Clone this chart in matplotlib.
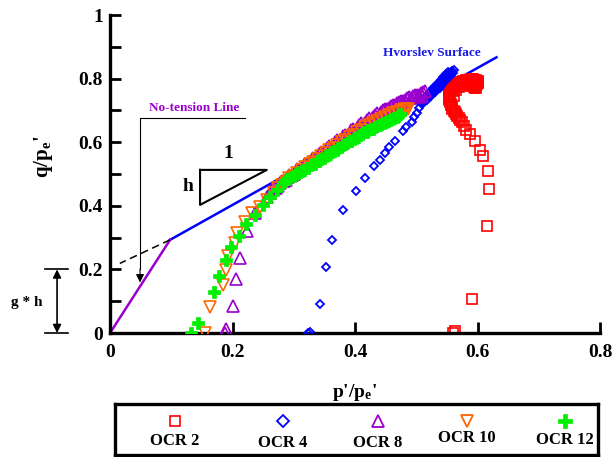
import numpy as np
import matplotlib.pyplot as plt
from matplotlib.ticker import MultipleLocator

plt.rcParams['font.family'] = 'Liberation Serif'
plt.rcParams['font.weight'] = 'bold'
plt.rcParams['axes.labelweight'] = 'bold'
plt.rcParams['mathtext.fontset'] = 'custom'
plt.rcParams['mathtext.rm'] = 'Liberation Serif:bold'
plt.rcParams['mathtext.it'] = 'Liberation Serif:bold'
plt.rcParams['mathtext.bf'] = 'Liberation Serif:bold'

# OCR 2
p2 = [0.560, 0.563, 0.591, 0.615, 0.618, 0.617, 0.609, 0.604, 0.596, 0.588, 0.582, 0.578,
      0.574, 0.571, 0.569, 0.567, 0.565, 0.563, 0.561, 0.559, 0.558, 0.557, 0.556, 0.555,
      0.554, 0.553, 0.553, 0.553, 0.553, 0.554, 0.555, 0.556, 0.558, 0.560, 0.562, 0.564,
      0.566, 0.569, 0.571, 0.574, 0.576, 0.579, 0.581, 0.584, 0.586, 0.589, 0.591, 0.593,
      0.595, 0.597, 0.599, 0.600, 0.600, 0.600, 0.599, 0.598, 0.597, 0.595, 0.594, 0.596,
      0.598, 0.591, 0.587, 0.593, 0.570, 0.580, 0.590, 0.575, 0.585, 0.595, 0.560, 0.562,
      0.565]
q2 = [0.000, 0.006, 0.107, 0.337, 0.453, 0.510, 0.557, 0.576, 0.603, 0.626, 0.638, 0.650,
      0.665, 0.671, 0.676, 0.682, 0.688, 0.694, 0.699, 0.705, 0.710, 0.716, 0.721, 0.727,
      0.732, 0.738, 0.743, 0.748, 0.753, 0.758, 0.762, 0.766, 0.770, 0.774, 0.777, 0.780,
      0.783, 0.786, 0.788, 0.790, 0.792, 0.794, 0.795, 0.796, 0.797, 0.798, 0.798, 0.798,
      0.797, 0.796, 0.794, 0.791, 0.789, 0.786, 0.783, 0.780, 0.778, 0.776, 0.774, 0.772,
      0.772, 0.781, 0.786, 0.790, 0.775, 0.778, 0.780, 0.783, 0.785, 0.788, 0.760, 0.745,
      0.765]

# OCR 4
p4 = [0.324, 0.327, 0.343, 0.352, 0.362, 0.381, 0.401, 0.417, 0.431, 0.441, 0.449, 0.456,
      0.465, 0.479, 0.483, 0.493, 0.496, 0.501, 0.505, 0.510, 0.512, 0.514, 0.517, 0.519,
      0.521, 0.523, 0.525, 0.527, 0.529, 0.531, 0.533, 0.535, 0.537, 0.539, 0.541, 0.543,
      0.545, 0.547, 0.549, 0.551, 0.552, 0.554, 0.555, 0.556, 0.558, 0.557, 0.555, 0.553,
      0.550, 0.547, 0.545, 0.540, 0.538, 0.532, 0.530, 0.524, 0.518,
      0.516, 0.520, 0.524, 0.528, 0.532, 0.536, 0.540, 0.544, 0.548, 0.552, 0.560, 0.561,
      0.508, 0.513, 0.518, 0.523, 0.528, 0.533, 0.538, 0.543, 0.549]
q4 = [0.000, 0.004, 0.091, 0.209, 0.294, 0.388, 0.448, 0.486, 0.526, 0.544, 0.565, 0.584,
      0.605, 0.636, 0.647, 0.664, 0.678, 0.693, 0.707, 0.720, 0.725, 0.729, 0.738, 0.742,
      0.746, 0.750, 0.754, 0.758, 0.762, 0.766, 0.770, 0.775, 0.779, 0.783, 0.788, 0.792,
      0.797, 0.801, 0.805, 0.808, 0.812, 0.815, 0.818, 0.820, 0.823, 0.812, 0.810, 0.806,
      0.798, 0.792, 0.790, 0.778, 0.772, 0.762, 0.758, 0.745, 0.733,
      0.744, 0.752, 0.760, 0.769, 0.778, 0.787, 0.796, 0.805, 0.813, 0.821, 0.818, 0.826,
      0.726, 0.736, 0.745, 0.754, 0.763, 0.772, 0.781, 0.790, 0.800]

# OCR 8
p8 = [0.188, 0.189, 0.200, 0.206, 0.212, 0.223, 0.237, 0.256,
      0.262, 0.265, 0.268, 0.271, 0.274, 0.277, 0.280, 0.284, 0.287, 0.290, 0.293, 0.297,
      0.300, 0.303, 0.306, 0.310, 0.313, 0.316, 0.319, 0.323, 0.326, 0.329, 0.332, 0.336,
      0.339, 0.342, 0.345, 0.349, 0.352, 0.355, 0.358, 0.362, 0.365, 0.368, 0.371, 0.375,
      0.378, 0.381, 0.384, 0.388, 0.391, 0.394, 0.397, 0.401, 0.404, 0.407, 0.410, 0.414,
      0.417, 0.420, 0.423, 0.427, 0.430, 0.433, 0.436, 0.440, 0.443, 0.446, 0.449, 0.453,
      0.456, 0.459, 0.462, 0.466, 0.469, 0.472, 0.475, 0.479, 0.482, 0.485, 0.488, 0.492,
      0.495, 0.498, 0.501, 0.505, 0.508, 0.511, 0.514, 0.510, 0.504]
q8 = [0.000, 0.012, 0.086, 0.169, 0.236, 0.322, 0.376, 0.429,
      0.440, 0.452, 0.458, 0.457, 0.462, 0.473, 0.478, 0.477, 0.482, 0.492, 0.497, 0.496,
      0.500, 0.510, 0.515, 0.514, 0.518, 0.528, 0.533, 0.532, 0.537, 0.546, 0.551, 0.550,
      0.554, 0.564, 0.569, 0.568, 0.572, 0.582, 0.587, 0.586, 0.590, 0.601, 0.606, 0.604,
      0.609, 0.619, 0.624, 0.622, 0.627, 0.637, 0.642, 0.640, 0.645, 0.654, 0.659, 0.657,
      0.662, 0.670, 0.675, 0.673, 0.678, 0.686, 0.691, 0.689, 0.694, 0.701, 0.705, 0.703,
      0.708, 0.714, 0.718, 0.717, 0.722, 0.727, 0.730, 0.729, 0.734, 0.738, 0.741, 0.740,
      0.745, 0.748, 0.750, 0.749, 0.756, 0.757, 0.760, 0.745, 0.742]

# OCR 10
p10 = [0.155, 0.163, 0.185, 0.189, 0.193, 0.204, 0.208, 0.221, 0.231, 0.245, 0.256, 0.267,
       0.274, 0.280, 0.287, 0.293, 0.300, 0.306, 0.313, 0.319, 0.326, 0.332, 0.339, 0.345,
       0.352, 0.358, 0.365, 0.371, 0.378, 0.384, 0.391, 0.397, 0.404, 0.410, 0.417, 0.423,
       0.430, 0.436, 0.443, 0.449, 0.456, 0.462, 0.469, 0.475, 0.481, 0.487, 0.484, 0.478]
q10 = [0.000, 0.083, 0.151, 0.198, 0.242, 0.283, 0.316, 0.350, 0.376, 0.397, 0.418, 0.439,
       0.455, 0.465, 0.475, 0.486, 0.495, 0.503, 0.512, 0.521, 0.530, 0.538, 0.547, 0.556,
       0.565, 0.574, 0.583, 0.591, 0.600, 0.608, 0.616, 0.624, 0.632, 0.640, 0.647, 0.654,
       0.661, 0.667, 0.674, 0.680, 0.686, 0.691, 0.696, 0.700, 0.703, 0.706, 0.700, 0.697]

# OCR 12
p12 = [0.133, 0.143, 0.169, 0.178, 0.189, 0.197, 0.210, 0.222, 0.236, 0.250, 0.261, 0.272,
       0.283, 0.286, 0.289, 0.293, 0.296, 0.300, 0.303, 0.307, 0.310, 0.314, 0.317, 0.321,
       0.324, 0.328, 0.331, 0.335, 0.338, 0.342, 0.345, 0.349, 0.352, 0.356, 0.359, 0.363,
       0.366, 0.370, 0.373, 0.377, 0.380, 0.384, 0.387, 0.391, 0.394, 0.398, 0.401, 0.405,
       0.408, 0.412, 0.415, 0.419, 0.422, 0.426, 0.429, 0.433, 0.436, 0.440, 0.443, 0.447,
       0.450, 0.454, 0.457, 0.461, 0.464, 0.468, 0.471, 0.473]
q12 = [0.000, 0.030, 0.130, 0.179, 0.230, 0.270, 0.305, 0.343, 0.371, 0.403, 0.429, 0.450,
       0.471, 0.477, 0.483, 0.485, 0.492, 0.493, 0.499, 0.503, 0.505, 0.511, 0.512, 0.519,
       0.520, 0.527, 0.530, 0.533, 0.540, 0.542, 0.548, 0.551, 0.556, 0.561, 0.563, 0.570,
       0.573, 0.577, 0.583, 0.585, 0.591, 0.593, 0.598, 0.603, 0.605, 0.611, 0.613, 0.618,
       0.623, 0.625, 0.631, 0.632, 0.637, 0.641, 0.643, 0.648, 0.650, 0.655, 0.658, 0.660,
       0.665, 0.666, 0.671, 0.673, 0.676, 0.680, 0.683, 0.688]

labels = ['OCR 2', 'OCR 4', 'OCR 8', 'OCR 10', 'OCR 12']
colors = ['#ff0000', '#0000ff', '#9900cc', '#ff6600', '#00ee00']

# reference lines
hv_p = [0.098, 0.631]
hv_q = [0.293, 0.867]
nt_p = [0.0, 0.098]
nt_q = [0.0, 0.293]
ext_p = [0.098, 0.016]
ext_q = [0.293, 0.219]

xticks = [0, 0.2, 0.4, 0.6, 0.8]
xticklabels = ['0', '0.2', '0.4', '0.6', '0.8']
yticks = [0, 0.2, 0.4, 0.6, 0.8, 1.0]
yticklabels = ['0', '0.2', '0.4', '0.6', '0.8', '1']

fig = plt.figure(figsize=(6.14, 4.57), dpi=100)
ax = fig.add_axes([0.1792, 0.2713, 0.798, 0.6958])

ax.plot(hv_p, hv_q, color='#0000ff', lw=1.8, zorder=1)
ax.plot(nt_p, nt_q, color='#9900cc', lw=1.8, zorder=1)
ax.plot(ext_p, ext_q, color='black', lw=1.1, ls=(0, (5, 3)), zorder=1)

ax.plot(p2, q2, ls='none', marker='s', ms=7, mfc='none', mec=colors[0], mew=1.2, zorder=2)
ax.plot(p4, q4, ls='none', marker='D', ms=4.5, mfc='none', mec=colors[1], mew=1.3, zorder=3)
ax.plot(p8, q8, ls='none', marker='^', ms=8, mfc='none', mec=colors[2], mew=1.2, zorder=4)
ax.plot(p10, q10, ls='none', marker='v', ms=8, mfc='none', mec=colors[3], mew=1.2, zorder=5)
ax.plot(p12, q12, ls='none', marker='P', ms=9, mfc=colors[4], mec=colors[4], mew=0.5, zorder=6)

# slope triangle
ax.plot([0.147, 0.256, 0.147, 0.147], [0.513, 0.513, 0.403, 0.513], color='black', lw=1.5)
ax.text(0.193, 0.565, '1', fontsize=14, ha='center', va='center')
ax.text(0.128, 0.46, 'h', fontsize=14, ha='center', va='center')

# no-tension line callout
ax.text(0.137, 0.707, 'No-tension Line', color='#9900cc', fontsize=9.5, ha='center', va='center')
ax.plot([0.220, 0.049, 0.049], [0.676, 0.676, 0.2], color='black', lw=0.8)
ax.annotate('', xy=(0.049, 0.150), xytext=(0.049, 0.21),
            arrowprops=dict(arrowstyle='-|>', color='black', lw=0.8, mutation_scale=12))
ax.text(0.526, 0.88, 'Hvorslev Surface', color='#1a1ae6', fontsize=9.5, ha='center', va='center')

# g * h marker outside axes
ax.annotate('', xy=(-0.0865, 0.0), xytext=(-0.0865, 0.2), annotation_clip=False,
            arrowprops=dict(arrowstyle='<|-|>', color='black', lw=1.2, mutation_scale=12,
                            shrinkA=0, shrinkB=0))
ax.plot([-0.106, -0.068], [0.2, 0.2], color='black', lw=1.2, clip_on=False)
ax.plot([-0.106, -0.068], [0.0, 0.0], color='black', lw=1.2, clip_on=False)
ax.text(-0.1355, 0.095, 'g * h', fontsize=11, ha='center', va='center')

ax.set_xlim(0, 0.8)
ax.set_ylim(0, 1)
ax.set_xticks(xticks)
ax.set_xticklabels(xticklabels)
ax.set_yticks(yticks)
ax.set_yticklabels(yticklabels)
ax.yaxis.set_minor_locator(MultipleLocator(0.1))
ax.tick_params(which='both', direction='in', length=8, width=2, labelsize=14)
ax.tick_params(axis='x', pad=8)
ax.tick_params(axis='y', pad=5)
for s in ['top', 'right']:
    ax.spines[s].set_visible(False)
for s in ['left', 'bottom']:
    ax.spines[s].set_linewidth(2.4)
ax.set_xlabel("p'/p$_\\mathrm{e}$'", fontsize=14)
ax.set_ylabel("q/p$_\\mathrm{e}$'", fontsize=15)
ax.xaxis.set_label_coords(0.5, -0.155)
ax.yaxis.set_label_coords(-0.112, 0.553)

# legend box
lax = fig.add_axes([115 / 614, 2 / 457, 483 / 614, 51 / 457])
lax.set_xlim(115, 598)
lax.set_ylim(455, 404)
lax.set_xticks([])
lax.set_yticks([])
for s in lax.spines.values():
    s.set_linewidth(2.4)
leg_x = [175, 283, 378, 467, 565]
leg_ty = [441, 443, 443, 438, 440]
mk = [dict(marker='s', ms=7, mfc='none', mew=1.2), dict(marker='D', ms=6, mfc='none', mew=1.3),
      dict(marker='^', ms=9, mfc='none', mew=1.3), dict(marker='v', ms=9, mfc='none', mew=1.3),
      dict(marker='P', ms=10, mew=0.5)]
for i in range(5):
    lax.plot([leg_x[i]], [421], ls='none', color=colors[i], mec=colors[i], **mk[i])
    lax.text(leg_x[i], leg_ty[i], labels[i], fontsize=12, ha='center', va='center')

plt.savefig('out.png', dpi=100)
